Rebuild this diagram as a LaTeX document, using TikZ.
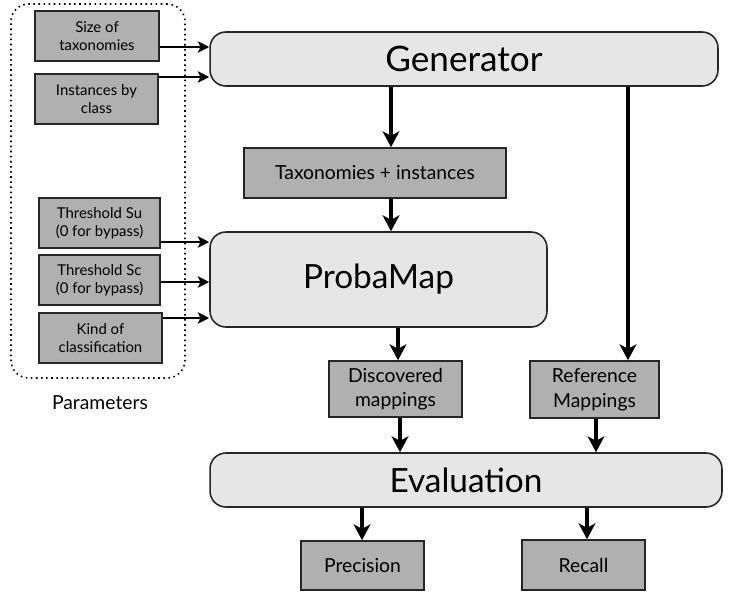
\documentclass[tikz,border=0pt]{standalone}
\usepackage{fontspec}
\setmainfont{Lato}
\usetikzlibrary{arrows.meta, positioning}
\definecolor{darkbox}{RGB}{176,176,176}
\definecolor{lightbox}{RGB}{230,230,230}
\tikzset{
  param/.style={draw=black!85, line width=0.9pt, fill=darkbox, align=center,
    font=\fontsize{8.5}{10}\selectfont, inner sep=0pt, minimum height=1cm}, % small parameter boxes
  data/.style={draw=black!85, line width=0.9pt, fill=darkbox, align=center,
    font=\fontsize{11}{14}\selectfont, inner sep=0pt}, % intermediate results
  stage/.style={draw=black!85, line width=0.9pt, fill=lightbox, rounded corners=9pt,
    inner sep=0pt}, % the big processing steps
  flow/.style={-{Stealth[length=9pt, width=9.5pt, inset=2.5pt]}, line width=2.1pt}, % main arrows
  feed/.style={-{Stealth[length=6.5pt, width=6.5pt, inset=1.5pt]}, line width=1.3pt}, % parameter arrows
}

\begin{document}
\begin{tikzpicture}[x=0.02cm, y=-0.02cm]
  \useasboundingbox (0,0) rectangle (733,592);

  % parameters
  \node[draw, dotted, line width=0.9pt, rounded corners=10pt, minimum width=3.48cm,
    minimum height=7.48cm] (params) at (98,191) {};
  \node[font=\fontsize{11}{13}\selectfont] (plabel) at (100,403) {Parameters};
  \node[param, minimum width=2.48cm] (size) at (97,36) {Size of\\taxonomies};
  \node[param, minimum width=2.46cm] (inst) at (96.5,99) {Instances by\\class};
  \node[param, minimum width=2.42cm] (thsu) at (99.5,223) {Threshold Su\\(0 for bypass)};
  \node[param, minimum width=2.42cm] (thsc) at (99.5,280) {Threshold Sc\\(0 for bypass)};
  \node[param, minimum width=2.46cm] (kind) at (100.5,338) {Kind of\\classification};

  % main chain
  \node[stage, minimum width=10.16cm, minimum height=1.08cm,
    font=\fontsize{20}{24}\selectfont] (gen) at (464,59) {Generator};
  \node[data, minimum width=5.24cm, minimum height=1cm] (tax) at (375,173) {Taxonomies + instances};
  \node[stage, minimum width=6.74cm, minimum height=1.9cm,
    font=\fontsize{19}{23}\selectfont] (proba) at (378.5,279.5) {ProbaMap};
  \node[data, minimum width=2.66cm, minimum height=1.12cm] (disc) at (395.5,389) {Discovered\\mappings};
  \node[data, minimum width=2.58cm, minimum height=1.14cm] (ref) at (594.5,389.5) {Reference\\Mappings};
  \node[stage, minimum width=10.24cm, minimum height=1.08cm,
    font=\fontsize{19}{22}\selectfont] (eval) at (466,480) {Evaluation};
  \node[data, minimum width=2.46cm, minimum height=0.98cm] (prec) at (362.5,565.5) {Precision};
  \node[data, minimum width=2.46cm, minimum height=1cm] (recall) at (583.5,565) {Recall};

  % parameter inputs
  \draw[feed] (size.east |- 0,47) -- (gen.west |- 0,47);
  \draw[feed] (inst.east |- 0,77) -- (gen.west |- 0,77);
  \draw[feed] (thsu.east |- 0,242) -- (proba.west |- 0,242);
  \draw[feed] (thsc.east |- 0,282) -- (proba.west |- 0,282);
  \draw[feed] (kind.east |- 0,318) -- (proba.west |- 0,318);

  % flow
  \draw[flow] (gen.south -| 391,0) -- (tax.north -| 391,0);
  \draw[flow] (tax.south -| 391,0) -- (proba.north -| 391,0);
  \draw[flow] (proba.south -| 398,0) -- (disc.north -| 398,0);
  \draw[flow] (gen.south -| 628,0) -- (ref.north -| 628,0);
  \draw[flow] (disc.south -| 400,0) -- (eval.north -| 400,0);
  \draw[flow] (ref.south -| 596,0) -- (eval.north -| 596,0);
  \draw[flow] (eval.south -| 362,0) -- (prec.north -| 362,0);
  \draw[flow] (eval.south -| 587,0) -- (recall.north -| 587,0);
\end{tikzpicture}
\end{document}
